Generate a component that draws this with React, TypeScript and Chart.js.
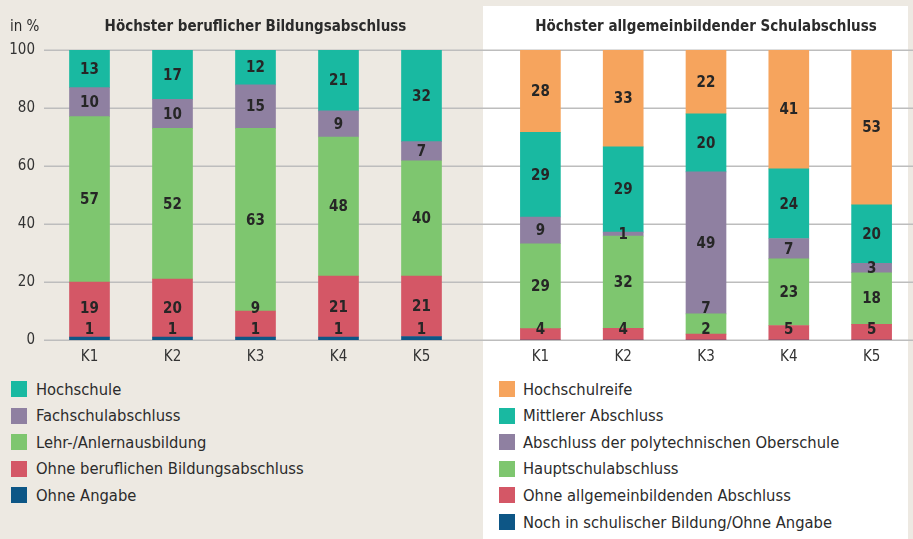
import React, { useEffect, useRef } from "react";
import { Chart, registerables } from "chart.js";

Chart.register(...registerables);

const FONT = "'DejaVu Sans Condensed', 'DejaVu Sans', sans-serif";
Chart.defaults.font.family = FONT;

// ---------- data ----------
const categories = ["K1", "K2", "K3", "K4", "K5"];
const yTicks = [0, 20, 40, 60, 80, 100];

const unitLabel = "in %";
const leftTitle = "Höchster beruflicher Bildungsabschluss";
const rightTitle = "Höchster allgemeinbildender Schulabschluss";

// left panel, stack order bottom -> top
const leftSeriesNames = [
  "Ohne Angabe",
  "Ohne beruflichen Bildungsabschluss",
  "Lehr-/Anlernausbildung",
  "Fachschulabschluss",
  "Hochschule",
];
const leftOhneAngabe = [1, 1, 1, 1, 1.2];
const leftOhneBeruf = [19, 20, 9, 21, 20.8];
const leftLehr = [57, 52, 63, 48, 39.8];
const leftFachschul = [10, 10, 15, 9, 6.6];
const leftHochschule = [13, 17, 12, 21, 31.6];

// right panel, stack order bottom -> top
const rightSeriesNames = [
  "Noch in schulischer Bildung/Ohne Angabe",
  "Ohne allgemeinbildenden Abschluss",
  "Hauptschulabschluss",
  "Abschluss der polytechnischen Oberschule",
  "Mittlerer Abschluss",
  "Hochschulreife",
];
const rightNochInSchule = [0, 0, 0, 0, 0];
const rightOhneAllg = [3.9, 4, 2, 5, 5.4];
const rightHauptschul = [29.3, 31.8, 7, 23, 17.8];
const rightPOS = [9.2, 1.4, 49, 7, 3.2];
const rightMittlerer = [29.2, 29.4, 20, 24, 20.2];
const rightHochschulreife = [28.4, 33.4, 22, 41, 53.4];

// ---------- styles ----------
const C_TEAL = "#19b9a1";
const C_PURPLE = "#8f80a1";
const C_GREEN = "#7ec66f";
const C_RED = "#d45766";
const C_BLUE = "#0d5686";
const C_ORANGE = "#f6a45d";
const BG = "#ede9e2";
const TEXT = "#2b2b2b";

const leftColors = [C_BLUE, C_RED, C_GREEN, C_PURPLE, C_TEAL];
const rightColors = [C_BLUE, C_RED, C_GREEN, C_PURPLE, C_TEAL, C_ORANGE];

const leftData = [leftOhneAngabe, leftOhneBeruf, leftLehr, leftFachschul, leftHochschule];
const rightData = [rightNochInSchule, rightOhneAllg, rightHauptschul, rightPOS, rightMittlerer, rightHochschulreife];

const gridPlugin = (x0: number) => ({
  id: "fullGrid",
  beforeDatasetsDraw(chart: any) {
    const { ctx } = chart;
    const ys = chart.scales.y;
    ctx.save();
    ctx.strokeStyle = "#bdbdbd";
    ctx.lineWidth = 1.5;
    yTicks.forEach((v) => {
      const py = Math.round(ys.getPixelForValue(v)) + 0.25;
      ctx.beginPath();
      ctx.moveTo(x0, py);
      ctx.lineTo(chart.width, py);
      ctx.stroke();
    });
    ctx.restore();
  },
});

const labelPlugin = {
  id: "stackLabels",
  afterDatasetsDraw(chart: any) {
    const { ctx, chartArea } = chart;
    const ys = chart.scales.y;
    const floor = ys.getPixelForValue(0) - 10.5;
    const prev: (number | undefined)[] = [];
    ctx.save();
    ctx.font = `bold 15px ${FONT}`;
    ctx.fillStyle = "#262626";
    ctx.textAlign = "center";
    ctx.textBaseline = "middle";
    chart.data.datasets.forEach((ds: any, di: number) => {
      const meta = chart.getDatasetMeta(di);
      meta.data.forEach((el: any, i: number) => {
        const v = ds.data[i] as number;
        if (!v) return;
        const top = Math.max(el.y, chartArea.top);
        const center = (top + el.base) / 2;
        const limit = prev[i] === undefined ? floor : (prev[i] as number) - 21;
        const y = Math.min(center, limit);
        prev[i] = y;
        ctx.fillText(String(Math.round(v)), el.x, y + 1);
      });
    });
    ctx.restore();
  },
};

const headerPlugin = (title: string, unit?: string) => ({
  id: "header",
  afterDraw(chart: any) {
    const { ctx, chartArea } = chart;
    ctx.save();
    ctx.fillStyle = TEXT;
    ctx.textBaseline = "alphabetic";
    ctx.textAlign = "center";
    ctx.font = `bold 15px ${FONT}`;
    ctx.fillText(title, (chartArea.left + chartArea.right) / 2, 31);
    if (unit) {
      ctx.textAlign = "left";
      ctx.font = `15px ${FONT}`;
      ctx.fillText(unit, 10, 31);
    }
    ctx.restore();
  },
});

function makeConfig(names: string[], data: number[][], colors: string[], showY: boolean, padding: any, plugins: any[]) {
  const yScale: any = {
    stacked: true,
    min: 0,
    max: 100,
    display: showY,
    grid: { display: false, drawTicks: false },
    border: { display: false },
    ticks: { stepSize: 20, color: "#333", font: { size: 15 }, padding: 13 },
  };
  if (showY) {
    yScale.afterFit = (s: any) => {
      s.width = 48;
    };
  }
  return {
    type: "bar" as const,
    data: {
      labels: categories,
      datasets: names.map((n, i) => ({
        label: n,
        data: data[i],
        backgroundColor: colors[i],
        borderWidth: 0,
        barThickness: 40,
      })),
    },
    options: {
      responsive: true,
      maintainAspectRatio: false,
      animation: false as const,
      layout: { padding },
      plugins: {
        legend: { display: false },
        tooltip: { enabled: false },
        title: { display: false },
      },
      scales: {
        x: {
          stacked: true,
          grid: { display: false, drawTicks: false },
          border: { display: false },
          ticks: { color: "#333", font: { size: 15 }, padding: 8 },
        },
        y: yScale,
      },
    },
    plugins,
  };
}

function ChartBox({ config, style }: { config: any; style: React.CSSProperties }) {
  const ref = useRef<HTMLCanvasElement>(null);
  useEffect(() => {
    if (!ref.current) return;
    const ch = new Chart(ref.current, config);
    return () => ch.destroy();
  }, []);
  return (
    <div style={{ position: "absolute", ...style }}>
      <canvas ref={ref} />
    </div>
  );
}

function Legend({ names, colors, boxLeft, textLeft }: { names: string[]; colors: string[]; boxLeft: number; textLeft: number }) {
  const items = names.map((n, i) => ({ n, c: colors[i] })).reverse();
  return (
    <>
      {items.map((it, i) => (
        <div
          key={it.n}
          style={{
            position: "absolute",
            left: boxLeft,
            top: 389 + i * 26.6 - 13,
            height: 26,
            display: "flex",
            alignItems: "center",
            whiteSpace: "nowrap",
          }}
        >
          <div style={{ width: 16, height: 16, background: it.c, marginRight: textLeft - boxLeft - 16 }} />
          <span style={{ fontFamily: FONT, fontSize: 16.4, color: TEXT }}>{it.n}</span>
        </div>
      ))}
    </>
  );
}

export default function App() {
  const leftCfg = makeConfig(leftSeriesNames, leftData, leftColors, true, { top: 50, right: 20, left: 0, bottom: 0 }, [
    gridPlugin(44),
    labelPlugin,
    headerPlugin(leftTitle, unitLabel),
  ]);
  const rightCfg = makeConfig(rightSeriesNames, rightData, rightColors, false, { top: 50, right: 0, left: 16, bottom: 0 }, [
    gridPlugin(0),
    labelPlugin,
    headerPlugin(rightTitle),
  ]);
  return (
    <div style={{ position: "fixed", left: 0, top: 0, width: 913, height: 539, background: BG, overflow: "hidden" }}>
      <div style={{ position: "absolute", left: 483, top: 6, width: 425, height: 533, background: "#ffffff" }} />
      <ChartBox config={leftCfg} style={{ left: 0, top: 0, width: 483, height: 374 }} />
      <ChartBox config={rightCfg} style={{ left: 483, top: 0, width: 430, height: 374 }} />
      <Legend names={leftSeriesNames} colors={leftColors} boxLeft={11} textLeft={36} />
      <Legend names={rightSeriesNames} colors={rightColors} boxLeft={499} textLeft={523} />
    </div>
  );
}
